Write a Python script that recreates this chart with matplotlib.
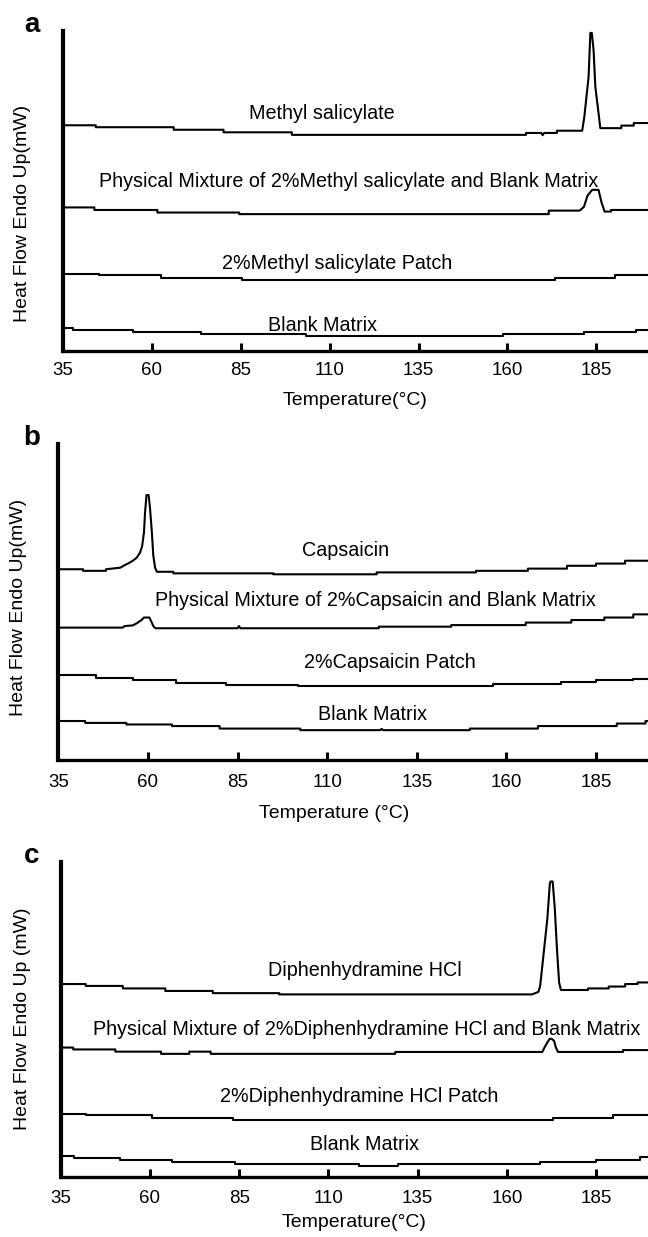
import matplotlib
matplotlib.use("Agg")
import matplotlib.pyplot as plt

plt.rcParams["font.family"] = ["Liberation Sans", "DejaVu Sans"]

# x ticks shared by all three panels
temp_ticks = [35, 60, 85, 110, 135, 160, 185]

# ---- panel a : methyl salicylate ----
ms_t = [35, 44.3, 44.3, 66.2, 66.2, 80.2, 80.2, 99.4, 99.4, 165.2, 165.2, 169.5, 169.9, 170.3, 173.9,
        173.9, 181.0, 181.6, 182.8, 183.3, 183.7, 184.2, 184.7, 185.6, 186.1, 192, 192, 195.5, 195.5, 200]
ms_y = [70.5, 70.5, 69.9, 69.9, 69.1, 69.1, 68.3, 68.3, 67.5, 67.5, 68.1, 68.1, 67.4, 68.1, 68.1,
        68.8, 68.8, 73.1, 85.6, 99.4, 99.4, 94.1, 82.5, 74.3, 69.6, 69.6, 70.4, 70.4, 71.2, 71.2]
ms_mix_t = [35, 43.9, 43.9, 61.6, 61.6, 84.6, 84.6, 171.6, 171.6, 180.3, 181.5, 182.5, 183.8, 185.6,
            186.4, 187.3, 189.1, 189.1, 200]
ms_mix_y = [44.8, 44.8, 44.0, 44.0, 43.2, 43.2, 42.7, 42.7, 43.8, 43.8, 45.0, 48.5, 50.3, 50.3,
            46.5, 43.5, 43.5, 44.0, 44.0]
ms_patch_t = [35, 45.2, 45.2, 62.7, 62.7, 85.4, 85.4, 173.4, 173.4, 190.2, 190.2, 200]
ms_patch_y = [24.1, 24.1, 23.5, 23.5, 22.8, 22.8, 22.2, 22.2, 22.8, 22.8, 23.5, 23.5]
blank_a_t = [35, 38.0, 38.0, 54.8, 54.8, 73.8, 73.8, 103.5, 103.5, 158.8, 158.8, 181.5, 181.5, 196.1, 196.1, 200]
blank_a_y = [7.0, 7.0, 6.3, 6.3, 5.8, 5.8, 5.2, 5.2, 4.6, 4.6, 5.2, 5.2, 5.8, 5.8, 6.5, 6.5]

labels_a = ["Methyl salicylate",
            "Physical Mixture of 2%Methyl salicylate and Blank Matrix",
            "2%Methyl salicylate Patch",
            "Blank Matrix"]
label_a_x = [107.8, 115.4, 112.2, 107.9]
label_a_y = [74.1, 52.9, 27.2, 7.9]

# ---- panel b : capsaicin ----
cap_t = [35, 41.9, 41.9, 48.3, 48.3, 52.3, 53.5, 54.6, 55.8, 56.9, 57.8, 58.4, 58.9, 59.2, 59.6, 60.2,
         60.6, 61.1, 61.5, 62.0, 62.5, 67.1, 67.1, 95.0, 95.0, 123.8, 123.8, 151.5, 151.5, 166.0, 166.0,
         176.9, 176.9, 185.0, 185.0, 193.1, 193.1, 200]
cap_y = [60.3, 60.3, 59.8, 59.8, 60.3, 60.8, 61.6, 62.2, 63.0, 64.0, 65.6, 67.7, 72.0, 78.3, 83.8, 83.8,
         79.4, 72.0, 64.6, 60.8, 59.5, 59.5, 59.0, 59.0, 58.7, 58.7, 59.3, 59.3, 59.8, 59.8, 60.5,
         60.5, 61.4, 61.4, 62.1, 62.1, 63.0, 63.0]
cap_mix_t = [35, 53.0, 53.5, 55.8, 56.9, 58.1, 58.9, 60.4, 61.0, 61.5, 62.1, 85.0, 85.4, 85.8, 124.4,
             124.4, 144.6, 144.6, 165.4, 165.4, 178.1, 178.1, 187.3, 187.3, 195.4, 195.4, 200]
cap_mix_y = [41.8, 41.8, 42.3, 42.5, 43.2, 44.1, 45.0, 45.0, 43.6, 42.3, 41.6, 41.6, 42.3, 41.6, 41.6,
             42.1, 42.1, 42.6, 42.6, 43.4, 43.4, 44.2, 44.2, 45.0, 45.0, 46.0, 46.0]
cap_patch_t = [35, 45.4, 45.4, 55.8, 55.8, 67.9, 67.9, 81.7, 81.7, 101.9, 101.9, 156.2, 156.2, 175.2,
               175.2, 185, 185, 195.4, 195.4, 200]
cap_patch_y = [26.7, 26.7, 25.9, 25.9, 25.2, 25.2, 24.3, 24.3, 23.6, 23.6, 23.3, 23.3, 23.8, 23.8,
               24.6, 24.6, 25.2, 25.2, 25.6, 25.6]
blank_b_t = [35, 42.5, 42.5, 54.0, 54.0, 66.7, 66.7, 80.0, 80.0, 102.5, 102.5, 124.8, 125.2, 125.6,
             149.8, 149.8, 168.8, 168.8, 190.8, 190.8, 198.8, 198.8, 200]
blank_b_y = [12.2, 12.2, 11.6, 11.6, 11.1, 11.1, 10.6, 10.6, 9.8, 9.8, 9.3, 9.3, 9.7, 9.3,
             9.3, 9.8, 9.8, 10.6, 10.6, 11.4, 11.4, 12.2, 12.2]

labels_b = ["Capsaicin",
            "Physical Mixture of 2%Capsaicin and Blank Matrix",
            "2%Capsaicin Patch",
            "Blank Matrix"]
label_b_x = [115.0, 123.5, 127.5, 122.7]
label_b_y = [66.1, 50.3, 30.9, 14.3]

# ---- panel c : diphenhydramine HCl ----
dph_t = [35, 42.0, 42.0, 52.4, 52.4, 64.3, 64.3, 77.6, 77.6, 96.2, 96.2, 167.0, 168.8, 169.3, 170.1,
         171.3, 172.0, 172.2, 172.8, 173.4, 174.0, 174.6, 175.1, 182.7, 182.7, 188.5, 188.5, 193.1,
         193.1, 196.6, 196.6, 200]
dph_y = [61.2, 61.2, 60.6, 60.6, 59.8, 59.8, 59.0, 59.0, 58.3, 58.3, 57.9, 57.9, 58.7, 60.6, 69.1,
         81.9, 93.1, 93.8, 93.8, 85.1, 72.3, 61.7, 59.3, 59.3, 59.8, 59.8, 60.4, 60.4,
         61.2, 61.2, 61.7, 61.7]
dph_mix_t = [35, 38.5, 38.5, 50.3, 50.3, 63.1, 63.1, 71.0, 71.0, 77.0, 77.0, 128.7, 128.7, 169.9,
             170.5, 171.3, 172.0, 172.5, 173.2, 173.7, 174.3, 192.5, 192.5, 200]
dph_mix_y = [41.0, 41.0, 40.4, 40.4, 39.7, 39.7, 39.0, 39.0, 39.7, 39.7, 39.0, 39.0, 39.6, 39.6,
             41.0, 42.6, 43.8, 43.8, 43.1, 41.0, 39.6, 39.6, 40.2, 40.2]
dph_patch_t = [35, 42.0, 42.0, 60.5, 60.5, 83.4, 83.4, 172.8, 172.8, 189.7, 189.7, 200]
dph_patch_y = [19.9, 19.9, 19.4, 19.4, 18.6, 18.6, 18.1, 18.1, 18.6, 18.6, 19.4, 19.4]
blank_c_t = [35, 38.7, 38.7, 51.5, 51.5, 66.3, 66.3, 83.8, 83.8, 118.6, 118.6, 129.5, 129.5, 169.3,
             169.3, 185, 185, 197.2, 197.2, 200]
blank_c_y = [6.4, 6.4, 5.9, 5.9, 5.1, 5.1, 4.5, 4.5, 4.0, 4.0, 3.4, 3.4, 4.0, 4.0,
             4.5, 4.5, 5.3, 5.3, 6.1, 6.1]

labels_c = ["Diphenhydramine HCl",
            "Physical Mixture of 2%Diphenhydramine HCl and Blank Matrix",
            "2%Diphenhydramine HCl Patch",
            "Blank Matrix"]
label_c_x = [120.2, 120.8, 118.6, 120.0]
label_c_y = [65.4, 46.8, 25.5, 10.3]

W, H = 648, 1237
fig = plt.figure(figsize=(W / 100, H / 100), dpi=100)


def make_panel(left, top, bottom, traces, names, lx, ly, letter, ylabel, xlabel,
               ylab_pos, xlab_pos, tick_pad):
    ax = fig.add_axes([left / W, 1 - bottom / H, (W - left) / W, (bottom - top) / H])
    for t, y in traces:
        ax.plot(t, y, color="black", lw=1.5)
    for name, x, y in zip(names, lx, ly):
        ax.text(x, y, name, ha="center", va="center", fontsize=14.2)
    ax.set_xlim(35, 199.5)
    ax.set_ylim(0, 100)
    ax.set_xticks(temp_ticks)
    ax.tick_params(axis="x", direction="in", length=6, width=2.2, labelsize=13.5, pad=tick_pad)
    ax.tick_params(axis="y", left=False, labelleft=False)
    for s in ["top", "right"]:
        ax.spines[s].set_visible(False)
    ax.spines["left"].set_linewidth(3)
    ax.spines["bottom"].set_linewidth(2.4)
    ax.set_ylabel(ylabel, fontsize=14, va="center")
    ax.yaxis.set_label_coords(*ylab_pos)
    ax.set_xlabel(xlabel, fontsize=14, va="center")
    ax.xaxis.set_label_coords(*xlab_pos)
    fig.text(32 / W, 1 - (top - 6) / H, letter, fontsize=20, fontweight="bold",
             ha="center", va="center")
    return ax


make_panel(62.7, 31, 350.6,
           [(ms_t, ms_y), (ms_mix_t, ms_mix_y), (ms_patch_t, ms_patch_y), (blank_a_t, blank_a_y)],
           labels_a, label_a_x, label_a_y, "a", "Heat Flow Endo Up(mW)", "Temperature(\u00b0C)",
           (-0.068, 0.43), (0.4995, -0.155), 8)
make_panel(58.3, 444, 759.5,
           [(cap_t, cap_y), (cap_mix_t, cap_mix_y), (cap_patch_t, cap_patch_y), (blank_b_t, blank_b_y)],
           labels_b, label_b_x, label_b_y, "b", "Heat Flow Endo Up(mW)", "Temperature (\u00b0C)",
           (-0.067, 0.483), (0.468, -0.17), 10.5)
make_panel(60.7, 862, 1176.5,
           [(dph_t, dph_y), (dph_mix_t, dph_mix_y), (dph_patch_t, dph_patch_y), (blank_c_t, blank_c_y)],
           labels_c, label_c_x, label_c_y, "c", "Heat Flow Endo Up (mW)", "Temperature(\u00b0C)",
           (-0.0645, 0.503), (0.4987, -0.145), 9.5)

fig.savefig("out.png", dpi=100)
